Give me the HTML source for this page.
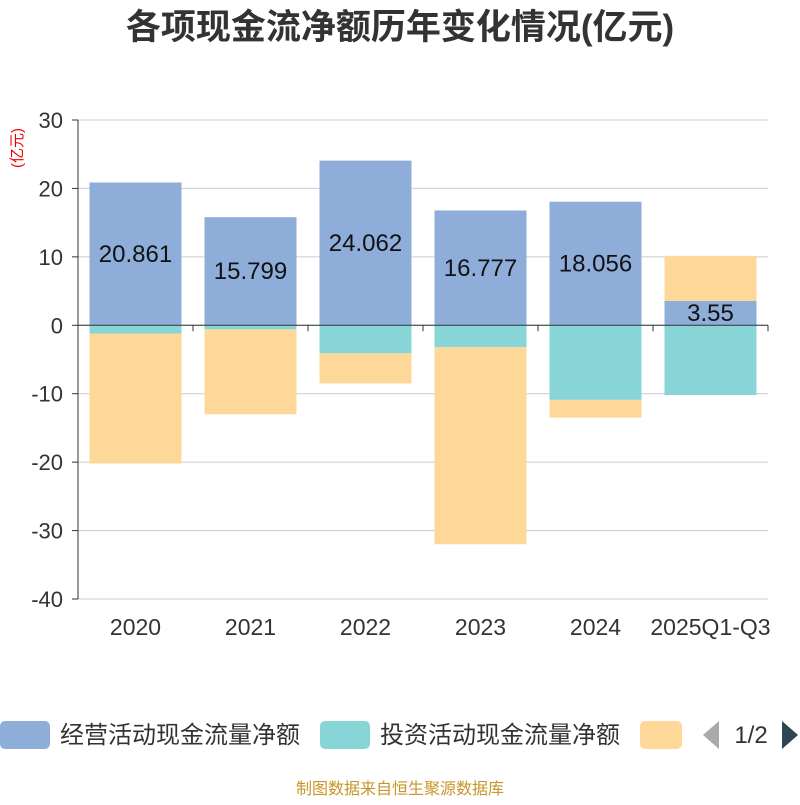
<!DOCTYPE html>
<html><head><meta charset="utf-8"><style>
body{margin:0;background:#fff;}
svg text{font-family:"Liberation Sans","Noto Sans CJK SC",sans-serif;}
</style></head><body>
<svg id="chart" width="800" height="800">
<text x="400" y="39" text-anchor="middle" font-size="35" font-weight="bold" fill="#333">各项现金流净额历年变化情况(亿元)</text>
<text x="0" y="0" transform="translate(22,148) rotate(-90)" text-anchor="middle" font-size="15" fill="#e00">(亿元)</text>
<g id="grid"></g><g id="bars"></g><g id="axes"></g>
<g>
<rect x="0" y="721" width="50" height="28" rx="5" fill="#8eadd9"/>
<text x="60" y="743" font-size="24" fill="#333">经营活动现金流量净额</text>
<rect x="320" y="721" width="50" height="28" rx="5" fill="#88d5d8"/>
<text x="380" y="743" font-size="24" fill="#333">投资活动现金流量净额</text>
<rect x="640" y="721" width="42" height="28" rx="5" fill="#fed898"/>
<polygon points="719,721 719,749 703,735" fill="#aaa"/>
<text x="751" y="743" text-anchor="middle" font-size="24" fill="#333">1/2</text>
<polygon points="782,721 782,749 798,735" fill="#2f4554"/>
</g>
<text x="400" y="794" text-anchor="middle" font-size="16" fill="#c8952a">制图数据来自恒生聚源数据库</text>
</svg>
<script>
const categories=["2020","2021","2022","2023","2024","2025Q1-Q3"];
const operating=[20.861,15.799,24.062,16.777,18.056,3.55];
const investing=[-1.2,-0.6,-4.1,-3.2,-10.9,-10.2];
const financing=[-19.0,-12.4,-4.4,-28.8,-2.6,6.6];
const yTicks=[30,20,10,0,-10,-20,-30,-40];
const NS="http://www.w3.org/2000/svg";
const x0=78,x1=768,yTop=120,yBot=599,yMax=30,yMin=-40;
const y=v=>yTop+(yMax-v)*(yBot-yTop)/(yMax-yMin);
const band=(x1-x0)/categories.length;
const bx=i=>x0+band*i+band/2;
function mk(tag,attrs,parent){const e=document.createElementNS(NS,tag);for(const k in attrs)e.setAttribute(k,attrs[k]);parent.appendChild(e);return e;}
const grid=document.getElementById('grid'),bars=document.getElementById('bars'),axes=document.getElementById('axes');
yTicks.forEach(t=>{
 const l=mk('line',{x1:x0,x2:x1,y1:y(t),y2:y(t),stroke:'#ccc','stroke-width':1},grid);
 
 
 const tx=mk('text',{x:63,y:y(t)+8,'text-anchor':'end','font-size':22,fill:'#333'},axes);
 tx.textContent=t;
 
 
 const tk=mk('line',{x1:x0-6,x2:x0,y1:y(t),y2:y(t),stroke:'#333'},axes);
 
 
});
const ya=mk('line',{x1:x0,x2:x0,y1:yTop,y2:yBot,stroke:'#333'},axes);


const series=[[operating,'#8eadd9','bar-operating'],[investing,'#88d5d8','bar-investing'],[financing,'#fed898','bar-financing']];
const bw=92;
categories.forEach((c,i)=>{
 let pos=0,neg=0;
 series.forEach(([arr,col,name])=>{
  const v=arr[i];let a,b;
  if(v>=0){a=pos;b=pos+v;pos=b;}else{a=neg;b=neg+v;neg=b;}
  const r=mk('rect',{x:bx(i)-bw/2,y:Math.min(y(a),y(b)),width:bw,height:Math.abs(y(b)-y(a)),fill:col},bars);
  
  
 });
 const lb=mk('text',{x:bx(i),y:y(operating[i]/2)+8,'text-anchor':'middle','font-size':24,fill:'#111'},bars);
 lb.textContent=operating[i];
 
 
 const xl=mk('text',{x:bx(i),y:635,'text-anchor':'middle','font-size':23,fill:'#333'},axes);
 xl.textContent=c;
 
 
});
for(let i=0;i<=categories.length;i++){
 const t=mk('line',{x1:x0+band*i,x2:x0+band*i,y1:y(0),y2:y(0)+6,stroke:'#333'},axes);
 
 
}
const xa=mk('line',{x1:x0,x2:x1,y1:y(0),y2:y(0),stroke:'#333'},axes);


</script>
</body></html>
